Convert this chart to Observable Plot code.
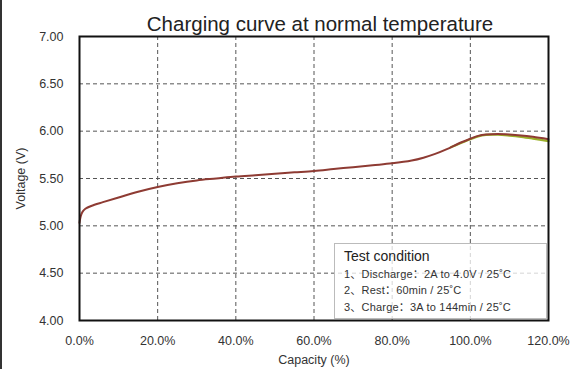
<!DOCTYPE html>
<html>
<head>
<meta charset="utf-8">
<script src="https://cdn.jsdelivr.net/npm/d3@7"></script>
<script src="https://cdn.jsdelivr.net/npm/@observablehq/plot@0.6"></script>
<style>
  html, body { margin: 0; padding: 0; background: #fff; }
  #wrap { position: relative; width: 577px; height: 369px; overflow: hidden; font-family: "Liberation Sans", Arial, "Noto Sans CJK SC", sans-serif; }
  #edge { position: absolute; left: 0; top: 0; width: 2px; height: 369px; background: #333; }
  #legend { position: absolute; left: 334px; top: 243px; width: 213px; height: 76px; background: rgba(255,255,255,0.75); border: 1px solid #bbb; box-sizing: border-box; padding: 4px 0 0 9px; color: #222; }
  #legend .t { font-size: 14px; line-height: 17px; margin-bottom: 1px; }
  #legend .r { font-size: 11px; line-height: 16.3px; color: #333; letter-spacing: 0.2px; }
</style>
</head>
<body>
<div id="wrap">
  <div id="chart"></div>
  <div id="edge"></div>
  <div id="legend"></div>
</div>
<script>
const title = "Charging curve at normal temperature";
const xLabel = "Capacity (%)";
const yLabel = "Voltage (V)";
const xTicks = [0, 20, 40, 60, 80, 100, 120];
const yTicks = [4.0, 4.5, 5.0, 5.5, 6.0, 6.5, 7.0];
const legendTitle = "Test condition";
const legendLines = [
  "1、Discharge：2A to 4.0V / 25˚C",
  "2、Rest：60min / 25˚C",
  "3、Charge：3A to 144min  / 25˚C"
];

// main (brown) curve
const capacity = [0, 0.3, 0.8, 1.5, 3, 6, 10, 15, 20, 25, 30, 35, 40, 45, 50, 55, 60, 65, 70, 75, 80, 85, 88, 91, 94, 97, 100, 102, 104, 107, 110, 113, 116, 120];
const voltage  = [5.03, 5.10, 5.15, 5.18, 5.21, 5.25, 5.30, 5.36, 5.41, 5.45, 5.48, 5.50, 5.52, 5.535, 5.55, 5.565, 5.58, 5.60, 5.62, 5.64, 5.66, 5.69, 5.72, 5.76, 5.81, 5.87, 5.92, 5.95, 5.965, 5.97, 5.965, 5.955, 5.94, 5.915];
// second (green) curve, diverging slightly at the end
const capacity2 = [95, 97, 100, 102, 104, 107, 110, 113, 116, 120];
const voltage2  = [5.83, 5.865, 5.915, 5.945, 5.96, 5.962, 5.953, 5.94, 5.922, 5.895];

const main = capacity.map((c, i) => ({c, v: voltage[i]}));
const green = capacity2.map((c, i) => ({c, v: voltage2[i]}));

const plot = Plot.plot({
  width: 577,
  height: 369,
  marginLeft: 79,
  marginRight: 29,
  marginTop: 36,
  marginBottom: 49,
  style: { fontFamily: "Liberation Sans, Arial, sans-serif", fontSize: "12.5px", color: "#333", background: "transparent" },
  x: { domain: [0, 120] },
  y: { domain: [4, 7] },
  marks: [
    Plot.gridX(xTicks.slice(1, -1), { stroke: "#555", strokeOpacity: 1, strokeDasharray: "4,3" }),
    Plot.gridY(yTicks.slice(1, -1), { stroke: "#555", strokeOpacity: 1, strokeDasharray: "4,3" }),
    Plot.axisX(xTicks, { tickSize: 0, tickPadding: 16, tickFormat: d => d.toFixed(1) + "%", label: xLabel, labelAnchor: "center", labelArrow: "none", labelOffset: 43, fill: "#333" }),
    Plot.axisY(yTicks, { tickSize: 0, tickPadding: 16, tickFormat: d => d.toFixed(2), label: yLabel, labelAnchor: "center", labelArrow: "none", labelOffset: 63, fill: "#333" }),
    Plot.line(green, { x: "c", y: "v", stroke: "#9bb02a", strokeWidth: 2.2, curve: "catmull-rom" }),
    Plot.line(main, { x: "c", y: "v", stroke: "#8e3b33", strokeWidth: 2, curve: "catmull-rom" }),
    Plot.frame({ stroke: "#111", strokeWidth: 2 }),
    Plot.text([title], { frameAnchor: "top", dy: -20, dx: 6, fontSize: 20.5, fill: "#222", letterSpacing: "0.3px" })
  ]
});
document.getElementById("chart").appendChild(plot);

const lg = document.getElementById("legend");
const t = document.createElement("div");
t.className = "t"; t.textContent = legendTitle; lg.appendChild(t);
for (const s of legendLines) {
  const d = document.createElement("div");
  d.className = "r"; d.textContent = s; lg.appendChild(d);
}
</script>
</body>
</html>
